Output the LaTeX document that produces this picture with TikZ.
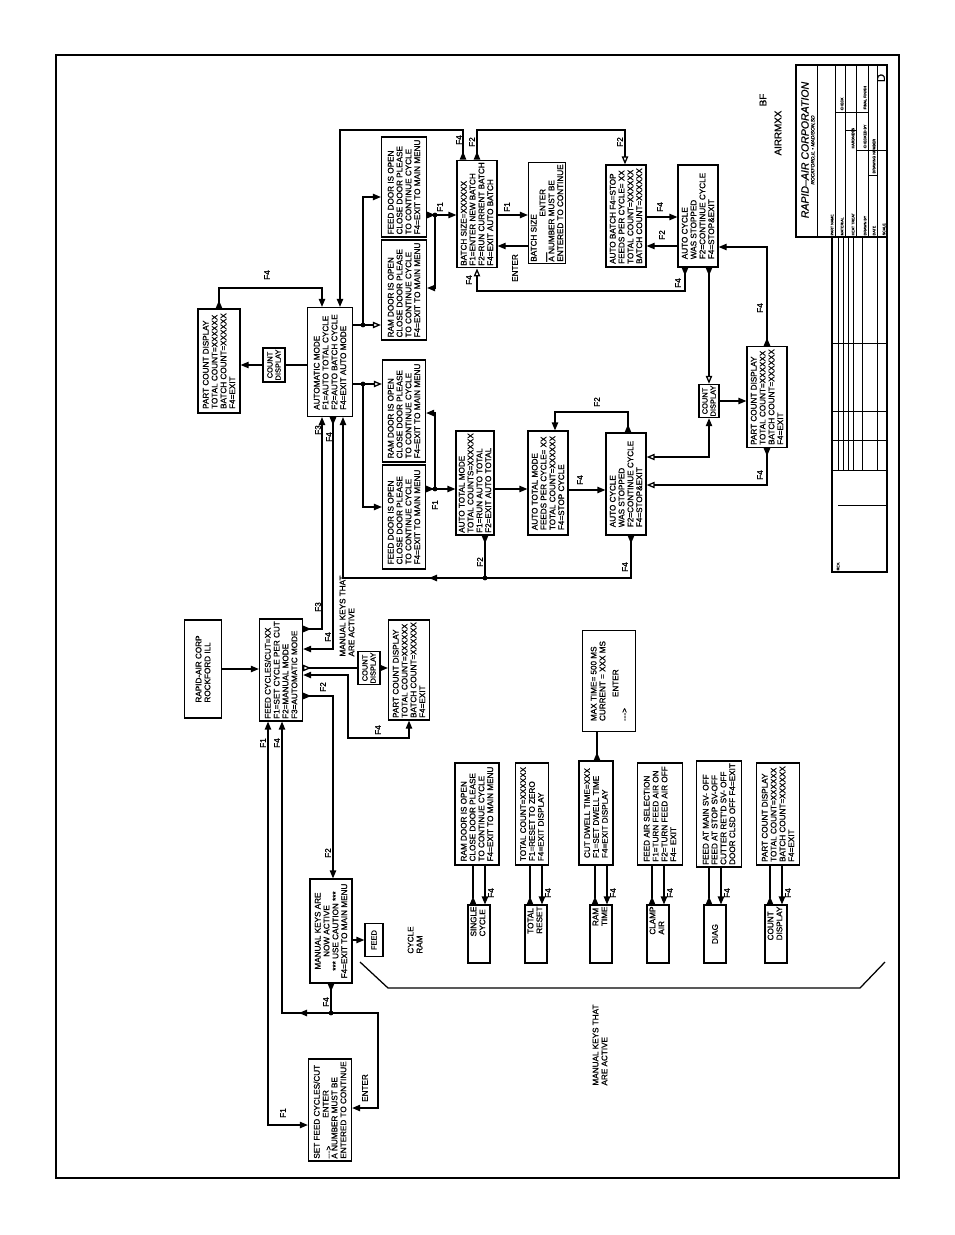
\documentclass[tikz,border=0pt]{standalone}
\usepackage{fontspec}
\setmainfont{Liberation Sans}[FakeBold=1]
\usetikzlibrary{arrows.meta,decorations.markings}
\tikzset{
    ponta/.tip={Triangle[length=2mm,width=1.6mm]},
    pontainv/.tip={Triangle[length=2mm,width=1.6mm,reversed]},
    aberta/.tip={Triangle[open,length=2mm,width=1.6mm]},
    abertainv/.tip={Triangle[open,length=2mm,width=1.6mm,reversed]},
    tela/.style 2 args={
        draw,
        line width=0.9pt,
        rotate=90,
        align=left,
        inner sep=1.5pt,
        minimum width=#1*0.25mm,
        minimum height=#2*0.25mm
    },
    tecla/.style 2 args={tela={#1}{#2}, align=center, inner sep=0.8pt, font=\fontsize{5.3}{5.8}\selectfont},
    teclaman/.style={
        draw,
        line width=0.9pt,
        rotate=90,
        inner sep=1pt,
        text width=55*0.25mm,
        minimum height=22*0.25mm,
        align=flush right
    },
    rotulo/.style={rotate=90, inner sep=0.5pt},
    miudo/.style={rotate=90, inner sep=0.3pt, font=\fontsize{2.6}{3}\selectfont},
    fluxo/.style={line width=0.9pt},
    juncao/.style={circle, fill, inner sep=1.2pt},
    meio/.style={decoration={markings, mark=at position #1 with {\arrow{ponta}}}, postaction={decorate}},
    moldura/.style={line width=1.6pt}
}

\begin{document}
\begin{tikzpicture}[
        x=0.25mm, y=-0.25mm,
        every node/.style={font=\fontsize{5.8}{6.3}\selectfont}
    ]
    \useasboundingbox (0,0) rectangle (954,1235);
    \draw[moldura] (56,55) rectangle (899,1178);

    % menu principal
    \node[tela={98}{37}] (rapid) at (203,669) {RAPID-AIR CORP\\ROCKFORD ILL};
    \node[tela={100}{43}] (ciclos) at (281,670) {FEED CYCLES/CUT=XX\\F1=SET CYCLE PER CUT\\F2=MANUAL MODE\\F3=AUTOMATIC MODE};
    \node[tecla={31}{22}] (contA) at (369,668) {COUNT\\DISPLAY};
    \node[tela={100}{41}] (pecasA) at (409,670) {PART COUNT DISPLAY\\TOTAL COUNT=XXXXXX\\BATCH COUNT=XXXXXX\\F4=EXIT};
    \node[tela={104}{42}, align=center] (manual) at (331,931) {MANUAL KEYS ARE\\NOW ACTIVE\\*** USE CAUTION ***\\F4=EXIT TO MAIN MENU};
    \node[tela={102}{43}] (ajuste) at (330,1110) {SET FEED CYCLES/CUT\\\raisebox{-2pt}{-{}-{}->}\hspace*{7mm}ENTER\\A NUMBER MUST BE\\ENTERED TO CONTINUE};
    \node[tecla={33}{18}] (alimenta) at (374,940) {FEED};
    \node[rotulo, align=left] (cicloram) at (415,940) {CYCLE\\RAM};
    \node[rotulo, align=left] (avisoA) at (347,616) {MANUAL KEYS THAT\\ARE ACTIVE};

    % modo automatico
    \node[tela={109}{45}] (automatico) at (330,362) {AUTOMATIC MODE\\F1=AUTO TOTAL CYCLE\\F2=AUTO BATCH CYCLE\\F4=EXIT AUTO MODE};
    \node[tecla={34}{22}] (contB) at (274,365) {COUNT\\DISPLAY};
    \node[tela={104}{42}] (pecasB) at (219,361) {PART COUNT DISPLAY\\TOTAL COUNT=XXXXXX\\BATCH COUNT=XXXXXX\\F4=EXIT};
    \node[tela={100}{45}] (portaAlim1) at (404,187) {FEED DOOR IS OPEN\\CLOSE DOOR PLEASE\\TO CONTINUE CYCLE\\F4=EXIT TO MAIN MENU};
    \node[tela={100}{45}] (portaRam1) at (404,290) {RAM DOOR IS OPEN\\CLOSE DOOR PLEASE\\TO CONTINUE CYCLE\\F4=EXIT TO MAIN MENU};
    \node[tela={102}{43}] (portaRam2) at (404,411) {RAM DOOR IS OPEN\\CLOSE DOOR PLEASE\\TO CONTINUE CYCLE\\F4=EXIT TO MAIN MENU};
    \node[tela={104}{43}] (portaAlim2) at (404,517) {FEED DOOR IS OPEN\\CLOSE DOOR PLEASE\\TO CONTINUE CYCLE\\F4=EXIT TO MAIN MENU};
    \node[tela={104}{38}] (totalA) at (475,483) {AUTO TOTAL MODE\\TOTAL COUNTS=XXXXXX\\F1=RUN AUTO TOTAL\\F2=EXIT AUTO TOTAL};
    \node[tela={104}{40}] (totalB) at (548,483) {AUTO TOTAL MODE\\FEEDS PER CYCLE= XX\\TOTAL COUNT=XXXXXX\\F4=STOP CYCLE};
    \node[tela={102}{40}] (paradaA) at (626,484) {AUTO CYCLE\\WAS STOPPED\\F2=CONTINUE CYCLE\\F4=STOP\&EXIT};
    \node[tecla={32}{20}] (contC) at (709,401) {COUNT\\DISPLAY};
    \node[tela={101}{40}] (pecasC) at (767,397) {PART COUNT DISPLAY\\TOTAL COUNT=XXXXXX\\BATCH COUNT=XXXXXX\\F4=EXIT};
    \node[tela={102}{40}] (lote) at (477,214) {BATCH SIZE=XXXXXX\\F1=ENTER NEW BATCH\\F2=RUN CURRENT BATCH\\F4=EXIT AUTO BATCH};
    \node[tela={100}{37}] (loteEntra) at (547,213) {BATCH SIZE\\\_\_\hspace*{9mm}ENTER\\A NUMBER MUST BE\\ENTERED TO CONTINUE};
    \node[tela={102}{40}] (loteAuto) at (626,216) {AUTO BATCH F4=STOP\\FEEDS PER CYCLE= XX\\TOTAL COUNT=XXXXXX\\BATCH COUNT=XXXXXX};
    \node[tela={102}{40}] (paradaB) at (698,216) {AUTO CYCLE\\WAS STOPPED\\F2=CONTINUE CYCLE\\F4=STOP\&EXIT};

    % teclas manuais
    \node[tela={101}{53}] (maxtempo) at (609,681) {MAX TIME= 500 MS\\CURRENT = XXX MS\\[3pt]\hspace*{6mm}ENTER\\-{}-{}->};
    \node[tela={102}{44}] (telaRam) at (477,814) {RAM DOOR IS OPEN\\CLOSE DOOR PLEASE\\TO CONTINUE CYCLE\\F4=EXIT TO MAIN MENU};
    \node[tela={102}{33}] (telaTotal) at (532,814) {TOTAL COUNT=XXXXXX\\F1=RESET TO ZERO\\F4=EXIT DISPLAY};
    \node[tela={104}{34}] (telaCorte) at (596,813) {CUT DWELL TIME=XXX\\F1=SET DWELL TIME\\F4=EXIT DISPLAY};
    \node[tela={102}{45}] (telaAr) at (660,814) {FEED AIR SELECTION\\F1=TURN FEED AIR ON\\F2=TURN FEED AIR OFF\\F4= EXIT};
    \node[tela={102}{45}] (telaDiag) at (719,814) {FEED AT MAIN SV- OFF\\FEED AT STOP SV-OFF\\CUTTER RET'D SV- OFF\\DOOR CLSD OFF F4=EXIT};
    \node[tela={102}{43}] (telaPecas) at (778,814) {PART COUNT DISPLAY\\TOTAL COUNT=XXXXXX\\BATCH COUNT=XXXXXX\\F4=EXIT};
    \node[teclaman] (teclaUnico) at (479,934) {\begin{tabular}{@{}l@{}}SINGLE\\CYCLE\end{tabular}};
    \node[teclaman] (teclaReset) at (536,934) {\begin{tabular}{@{}l@{}}TOTAL\\RESET\end{tabular}};
    \node[teclaman] (teclaTempo) at (601,934) {\begin{tabular}{@{}l@{}}RAM\\TIME\end{tabular}};
    \node[teclaman] (teclaAr) at (658,934) {\begin{tabular}{@{}l@{}}CLAMP\\AIR\end{tabular}};
    \node[teclaman, align=center] (teclaDiag) at (715,934) {DIAG};
    \node[teclaman] (teclaCont) at (776,934) {\begin{tabular}{@{}l@{}}COUNT\\DISPLAY\end{tabular}};
    \node[rotulo, align=left] (avisoB) at (600,1045) {MANUAL KEYS THAT\\ARE ACTIVE};

    % ligacoes do menu principal
    \draw[fluxo,-ponta] (rapid.south) -- (rapid.south -| ciclos.north);
    \draw[fluxo,pontainv-ponta] (ciclos.south |- 0,629) -| (automatico.west -| 322,0);
    \draw[fluxo,pontainv-ponta] (automatico.west -| 333,0) |- (ciclos.south |- 0,649);
    \draw[fluxo,abertainv-] (ciclos.south |- contA.north) -- (contA.north);
    \draw[fluxo,-ponta] (contA.south) -- (contA.south -| pecasA.north);
    \draw[fluxo,ponta-ponta] (pecasA.west) |- (348,738) |- (ciclos.south |- 0,675);
    \draw[fluxo,pontainv-ponta] (ciclos.south |- 0,696) -| (manual.east -| 333,0);
    \draw[fluxo,ponta-ponta] (ciclos.west -| 268,0) |- (ajuste.north |- 0,1125);
    \node[juncao] (j1) at (331,1013) {};
    \draw[fluxo,pontainv-] (manual.west) -- (j1.center);
    \draw[fluxo,-ponta,meio=8mm] (j1.center) -| (ciclos.west -| 282,0);
    \draw[fluxo,-ponta] (j1.center) -- (378,1013) |- (ajuste.south |- 0,1108);
    \draw[fluxo,-ponta] (manual.south |- alimenta.north) -- (alimenta.north);
    \draw[fluxo] (360,962) -- (388,988) -- (860,988) -- (885,962);

    \node[rotulo] at (318,607) {F3};
    \node[rotulo] at (328,637) {F4};
    \node[rotulo] at (323,687) {F2};
    \node[rotulo] at (378,730) {F4};
    \node[rotulo] at (263,743) {F1};
    \node[rotulo] at (277,743) {F4};
    \node[rotulo] at (328,853) {F2};
    \node[rotulo] at (326,1002) {F4};
    \node[rotulo] at (283,1113) {F1};
    \node[rotulo] at (365,1088) {ENTER};

    % ligacoes do modo automatico
    \draw[fluxo,pontainv-ponta] (pecasB.east) |- (322,288) -- (automatico.east -| 322,0);
    \draw[fluxo] (automatico.north |- contB.south) -- (contB.south);
    \draw[fluxo,-ponta] (contB.north) -- (contB.north -| pecasB.south);
    \draw[fluxo,pontainv-ponta] (lote.east -| 463,0) |- (340,130) -- (automatico.east -| 340,0);
    \draw[fluxo,pontainv-aberta] (lote.east -| 477,0) |- (625,130) -- (loteAuto.east -| 625,0);
    \node[juncao] (j2) at (363,325) {};
    \node[juncao] (j3) at (363,384) {};
    \draw[fluxo] (automatico.south |- j2) -- (j2.center);
    \draw[fluxo,-aberta] (j2.center) -- (j2 -| portaRam1.north);
    \draw[fluxo,-ponta] (j2.center) |- (portaAlim1.north |- 0,197);
    \draw[fluxo] (automatico.south |- j3) -- (j3.center);
    \draw[fluxo,-aberta] (j3.center) -- (j3 -| portaRam2.north);
    \draw[fluxo,-ponta] (j3.center) |- (portaAlim2.north |- 0,507);
    \node[juncao] (j4) at (435,215) {};
    \draw[fluxo,pontainv-] (portaAlim1.south |- j4) -- (j4.center);
    \draw[fluxo,-ponta] (j4.center) |- (portaRam1.south |- 0,288);
    \draw[fluxo,-ponta] (j4.center) -- (j4 -| lote.north);
    \node[juncao] (j5) at (435,489) {};
    \draw[fluxo,pontainv-] (portaAlim2.south |- j5) -- (j5.center);
    \draw[fluxo,-ponta] (j5.center) |- (portaRam2.south |- 0,413);
    \draw[fluxo,-ponta] (j5.center) -- (j5 -| totalA.north);
    \draw[fluxo,-ponta] (totalA.south |- 0,489) -- (totalB.north |- 0,489);
    \draw[fluxo,-ponta] (totalB.south |- 0,490) -- (paradaA.north |- 0,490);
    \draw[fluxo,pontainv-ponta] (paradaA.east -| 628,0) |- (555,412) -- (totalB.east -| 555,0);
    \node[juncao] (j6) at (485,578) {};
    \draw[fluxo,pontainv-] (totalA.west -| 485,0) -- (j6.center);
    \draw[fluxo,pontainv-] (paradaA.west -| 631,0) |- (j6.center);
    \draw[fluxo,-ponta,meio=14mm] (j6.center) -| (automatico.west -| 343,0);
    \draw[fluxo,ponta-aberta] (contC.west) |- (paradaA.south |- 0,457);
    \draw[fluxo,pontainv-aberta] (pecasC.west) |- (paradaA.south |- 0,485);
    \draw[fluxo,-ponta] (contC.south) -- (contC.south -| pecasC.north);
    \draw[fluxo,pontainv-aberta] (paradaB.west -| contC) -- (contC.east);
    \draw[fluxo,pontainv-aberta] (paradaB.west -| 685,0) |- (477,291) -- (lote.west -| 477,0);
    \draw[fluxo,pontainv-ponta] (pecasC.east) |- (paradaB.south |- 0,247);
    \draw[fluxo,-ponta] (lote.south |- 0,215) -- (loteEntra.north |- 0,215);
    \draw[fluxo,-ponta] (loteEntra.north |- 0,246) -- (lote.south |- 0,246);
    \draw[fluxo,-ponta] (loteAuto.south |- 0,217) -- (paradaB.north |- 0,217);
    \draw[fluxo,-ponta] (paradaB.north |- 0,246) -- (loteAuto.south |- 0,246);

    \node[rotulo] at (318,430) {F3};
    \node[rotulo] at (329,437) {F4};
    \node[rotulo] at (267,275) {F4};
    \node[rotulo] at (459,140) {F4};
    \node[rotulo] at (472,142) {F2};
    \node[rotulo] at (620,142) {F2};
    \node[rotulo] at (440,207) {F1};
    \node[rotulo] at (435,505) {F1};
    \node[rotulo] at (480,562) {F2};
    \node[rotulo] at (580,480) {F4};
    \node[rotulo] at (597,402) {F2};
    \node[rotulo] at (625,567) {F4};
    \node[rotulo] at (760,475) {F4};
    \node[rotulo] at (469,280) {F4};
    \node[rotulo] at (678,283) {F4};
    \node[rotulo] at (760,308) {F4};
    \node[rotulo] at (507,207) {F1};
    \node[rotulo] at (515,268) {ENTER};
    \node[rotulo] at (660,207) {F4};
    \node[rotulo] at (662,235) {F2};

    % ligacoes das teclas manuais
    \draw[fluxo,pontainv-] (telaCorte.east -| 597,0) -- (maxtempo.west -| 597,0);
    \draw[fluxo,pontainv-] (teclaUnico.east -| 473,0) -- (telaRam.west -| 473,0);
    \draw[fluxo,-ponta] (telaRam.west -| 485,0) -- (teclaUnico.east -| 485,0);
    \draw[fluxo,pontainv-] (teclaReset.east -| 530,0) -- (telaTotal.west -| 530,0);
    \draw[fluxo,-ponta] (telaTotal.west -| 542,0) -- (teclaReset.east -| 542,0);
    \draw[fluxo,pontainv-] (teclaTempo.east -| 595,0) -- (telaCorte.west -| 595,0);
    \draw[fluxo,-ponta] (telaCorte.west -| 607,0) -- (teclaTempo.east -| 607,0);
    \draw[fluxo,pontainv-] (teclaAr.east -| 652,0) -- (telaAr.west -| 652,0);
    \draw[fluxo,-ponta] (telaAr.west -| 664,0) -- (teclaAr.east -| 664,0);
    \draw[fluxo,pontainv-] (teclaDiag.east -| 709,0) -- (telaDiag.west -| 709,0);
    \draw[fluxo,-ponta] (telaDiag.west -| 721,0) -- (teclaDiag.east -| 721,0);
    \draw[fluxo,pontainv-] (teclaCont.east -| 770,0) -- (telaPecas.west -| 770,0);
    \draw[fluxo,-ponta] (telaPecas.west -| 782,0) -- (teclaCont.east -| 782,0);
    \node[rotulo] at (491,893) {F4};
    \node[rotulo] at (548,893) {F4};
    \node[rotulo] at (613,893) {F4};
    \node[rotulo] at (670,893) {F4};
    \node[rotulo] at (727,893) {F4};
    \node[rotulo] at (788,893) {F4};

    % carimbo
    \node[rotulo, font=\fontsize{7}{8}\selectfont] at (763,100) {BF};
    \node[rotulo, font=\fontsize{7}{8}\selectfont] at (778,133) {AIRRMXX};
    \draw[thick] (796,65) rectangle (887,237);
    \draw[thick] (832,237) rectangle (887,572);
    \draw (817,65) -- (817,237);
    \foreach \xc in {835,845,856,868,877} \draw (\xc,65) -- (\xc,237);
    \draw (835,112) -- (868,112);
    \draw (845,130) -- (856,130);
    \draw (856,150) -- (887,150);
    \draw (868,175) -- (877,175);
    \foreach \xc in {838,843,848,853,862,877} \draw (\xc,237) -- (\xc,470);
    \draw (838,505) -- (887,505);
    \foreach \yc in {343,411,440,470} \draw (832,\yc) -- (887,\yc);
    \node[rotulo, font=\fontsize{7.5}{8}\selectfont\itshape] at (805,150) {RAPID--AIR CORPORATION};
    \node[rotulo, font=\fontsize{3.5}{4}\selectfont\itshape] at (813,150) {ROCKFORD,IL \textbullet{} MADISON,SD};
    \node[miudo, anchor=south west] at (834,236) {PART NAME};
    \node[miudo, anchor=south west] at (844,236) {MATERIAL};
    \node[miudo, anchor=south west] at (855,236) {HEAT TREAT};
    \node[miudo, anchor=south west] at (867,236) {DRAWN BY};
    \node[miudo, anchor=south west] at (876,236) {DATE};
    \node[miudo, anchor=south west] at (886,236) {SCALE};
    \node[miudo, anchor=south west] at (844,111) {CHECK};
    \node[miudo, anchor=south west] at (855,149) {HARDNESS};
    \node[miudo, anchor=south west] at (867,149) {CHECKED BY};
    \node[miudo, anchor=south west] at (867,110) {FINAL FINISH};
    \node[miudo, anchor=south west] at (876,174) {DRAWING NUMBER};
    \node[rotulo, font=\fontsize{8}{9}\selectfont] at (881,78) {D};
    \node[miudo, anchor=south west] at (840,571) {REV.};
\end{tikzpicture}
\end{document}
